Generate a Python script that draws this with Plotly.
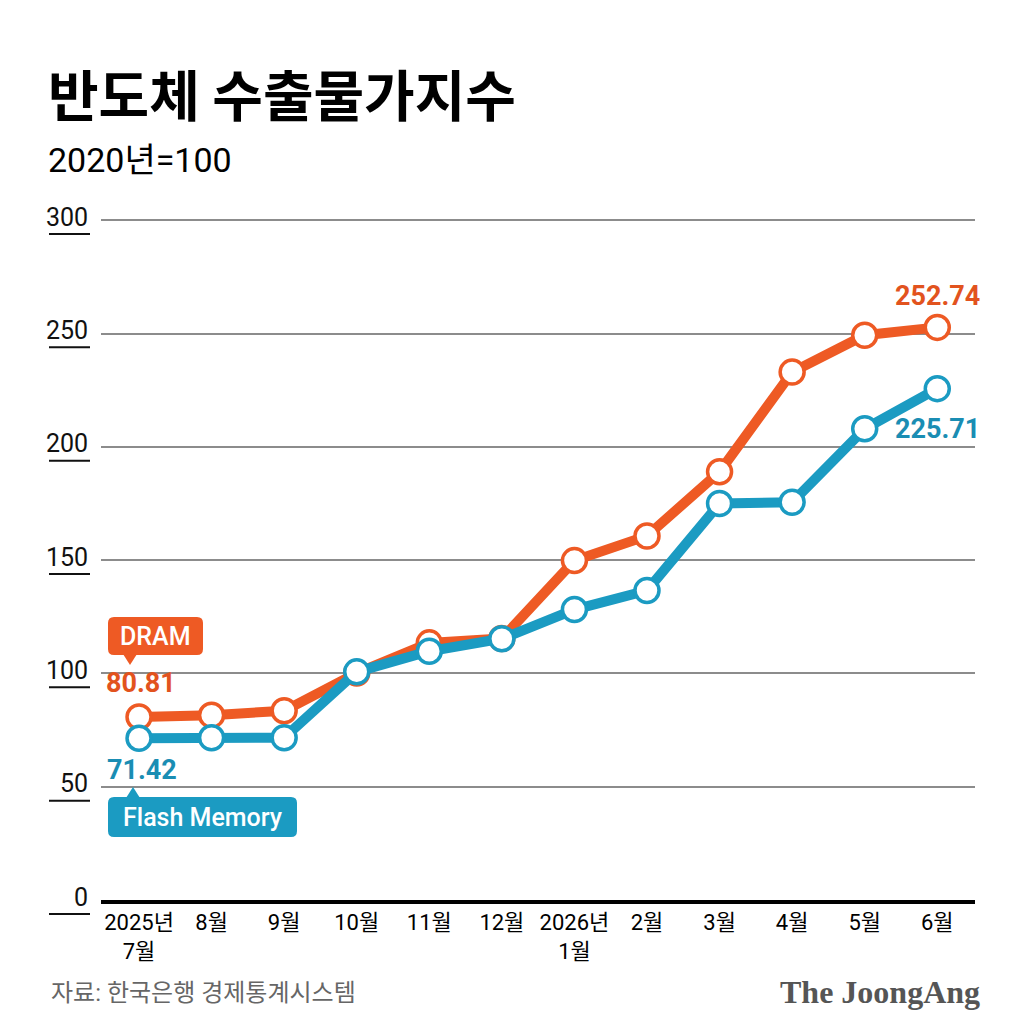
import plotly.graph_objects as go

# 반도체 수출물가지수 (2020년=100)
months = ["2025년<br>7월", "8월", "9월", "10월", "11월", "12월",
          "2026년<br>1월", "2월", "3월", "4월", "5월", "6월"]
dram = [80.81, 81.6, 83.5, 100.2, 113.5, 115.4, 149.8, 160.7, 189.0, 233.0, 249.3, 252.74]
flash = [71.42, 71.6, 71.6, 100.7, 109.8, 115.3, 128.2, 136.6, 175.0, 175.6, 208.0, 225.71]
y_ticks = [0, 50, 100, 150, 200, 250, 300]

ORANGE = "#EE5A24"
TEAL = "#1B9BC2"
W, H = 1029, 1029
OFF = 8  # page body margin
UNIT = 680 / 300  # pixels per index point
YMAX = 305
Y0 = 900  # page pixel of value 0
L = 101 - OFF
R = W - (975 - OFF)
B = H - (Y0 - OFF)
T = round(Y0 - YMAX * UNIT) - OFF
PW, PH = W - L - R, H - T - B


def px(x):
    return (x - OFF - L) / PW


def py(y):
    return (H - B - (y - OFF)) / PH


def val_to_pixel(v):
    return Y0 - v * UNIT


def rounded_box(x0, y0, x1, y1, r=6):
    # page pixel box -> svg path in paper coords with rounded corners
    rx, ry = r / PW, r / PH
    a, b, c, d = px(x0), py(y1), px(x1), py(y0)
    return (f"M{a + rx},{b} L{c - rx},{b} Q{c},{b} {c},{b + ry} "
            f"L{c},{d - ry} Q{c},{d} {c - rx},{d} L{a + rx},{d} "
            f"Q{a},{d} {a},{d - ry} L{a},{b + ry} Q{a},{b} {a + rx},{b} Z")


def triangle(pts):
    p = [(px(x), py(y)) for x, y in pts]
    return f"M{p[0][0]},{p[0][1]} L{p[1][0]},{p[1][1]} L{p[2][0]},{p[2][1]} Z"


fig = go.Figure()

fig.add_trace(go.Scatter(
    x=months, y=dram, name="DRAM", mode="lines+markers",
    line=dict(color=ORANGE, width=10),
    marker=dict(size=24, color="white", line=dict(color=ORANGE, width=3.5)),
    cliponaxis=False,
))
fig.add_trace(go.Scatter(
    x=months, y=flash, name="Flash Memory", mode="lines+markers",
    line=dict(color=TEAL, width=10),
    marker=dict(size=24, color="white", line=dict(color=TEAL, width=3.5)),
    cliponaxis=False,
))

annotations = []
shapes = []

# y tick labels with short underline
for v in y_ticks:
    yp = val_to_pixel(v)
    annotations.append(dict(
        x=px(90), y=py(yp - 3), xref="paper", yref="paper",
        text=str(v), showarrow=False, xanchor="right", yanchor="middle",
        font=dict(family="Roboto", size=25, color="#111"),
    ))
    shapes.append(dict(
        type="line", xref="paper", yref="paper",
        x0=px(49), x1=px(90), y0=py(yp + 14), y1=py(yp + 14),
        line=dict(color="#111", width=2),
    ))

# first / last values
val_font = dict(family="Roboto", size=27, weight="bold")
annotations += [
    dict(x=months[0], y=dram[0], text=f"{dram[0]:.2f}", showarrow=False,
         yshift=34, xshift=2, font=dict(val_font, color="#E2531E")),
    dict(x=months[0], y=flash[0], text=f"{flash[0]:.2f}", showarrow=False,
         yshift=-32, xshift=3, font=dict(val_font, color="#1A8DB3")),
    dict(x=months[-1], y=dram[-1], text=f"{dram[-1]:.2f}", showarrow=False,
         yshift=31, font=dict(val_font, color="#E2531E")),
    dict(x=months[-1], y=flash[-1], text=f"{flash[-1]:.2f}", showarrow=False,
         yshift=-40, font=dict(val_font, color="#1A8DB3")),
]

# series badges
shapes += [
    dict(type="path", xref="paper", yref="paper", path=rounded_box(108, 617, 203, 655),
         fillcolor=ORANGE, line=dict(width=0)),
    dict(type="path", xref="paper", yref="paper",
         path=triangle([(123, 654), (137, 654), (130, 665)]),
         fillcolor=ORANGE, line=dict(width=0)),
    dict(type="path", xref="paper", yref="paper", path=rounded_box(108, 797, 297, 837),
         fillcolor=TEAL, line=dict(width=0)),
    dict(type="path", xref="paper", yref="paper",
         path=triangle([(126, 798), (140, 798), (133, 787)]),
         fillcolor=TEAL, line=dict(width=0)),
]
badge_font = dict(family="Roboto", size=25, color="white", weight=500)
annotations += [
    dict(x=px(155.5), y=py(636), xref="paper", yref="paper", text="DRAM",
         showarrow=False, xanchor="center", yanchor="middle", font=badge_font),
    dict(x=px(202.5), y=py(817), xref="paper", yref="paper", text="Flash Memory",
         showarrow=False, xanchor="center", yanchor="middle", font=badge_font),
]

# title, unit, source, logo
annotations += [
    dict(x=px(46), y=py(92), xref="paper", yref="paper", text="반도체 수출물가지수",
         showarrow=False, xanchor="left", yanchor="middle",
         font=dict(family="Noto Sans CJK KR", size=55, color="black", weight="bold")),
    dict(x=px(46), y=py(160), xref="paper", yref="paper", text="2020년=100",
         showarrow=False, xanchor="left", yanchor="middle",
         font=dict(family="Roboto, Noto Sans CJK KR", size=34, color="black")),
    dict(x=px(49), y=py(993), xref="paper", yref="paper", text="자료: 한국은행 경제통계시스템",
         showarrow=False, xanchor="left", yanchor="middle",
         font=dict(family="Roboto, Noto Sans CJK KR", size=24, color="#666")),
    dict(x=px(982), y=py(992), xref="paper", yref="paper", text="The JoongAng",
         showarrow=False, xanchor="right", yanchor="middle",
         font=dict(family="Liberation Serif", size=32, color="#555", weight="bold")),
]

fig.update_layout(
    width=W, height=H,
    margin=dict(l=L, r=R, t=T, b=B),
    paper_bgcolor="white", plot_bgcolor="white",
    showlegend=False,
    annotations=annotations,
    shapes=shapes,
    xaxis=dict(
        type="category", range=[-0.524, 11.52],
        showgrid=False, showline=True, linecolor="black", linewidth=4,
        ticks="", tickfont=dict(family="Roboto, Noto Sans CJK KR", size=22, color="black"),
        fixedrange=True,
    ),
    yaxis=dict(
        range=[0, YMAX], tickvals=y_ticks, showticklabels=False,
        showgrid=True, gridcolor="#8c8c8c", gridwidth=2,
        zeroline=False, fixedrange=True,
    ),
)

fig.write_html("out.html")
